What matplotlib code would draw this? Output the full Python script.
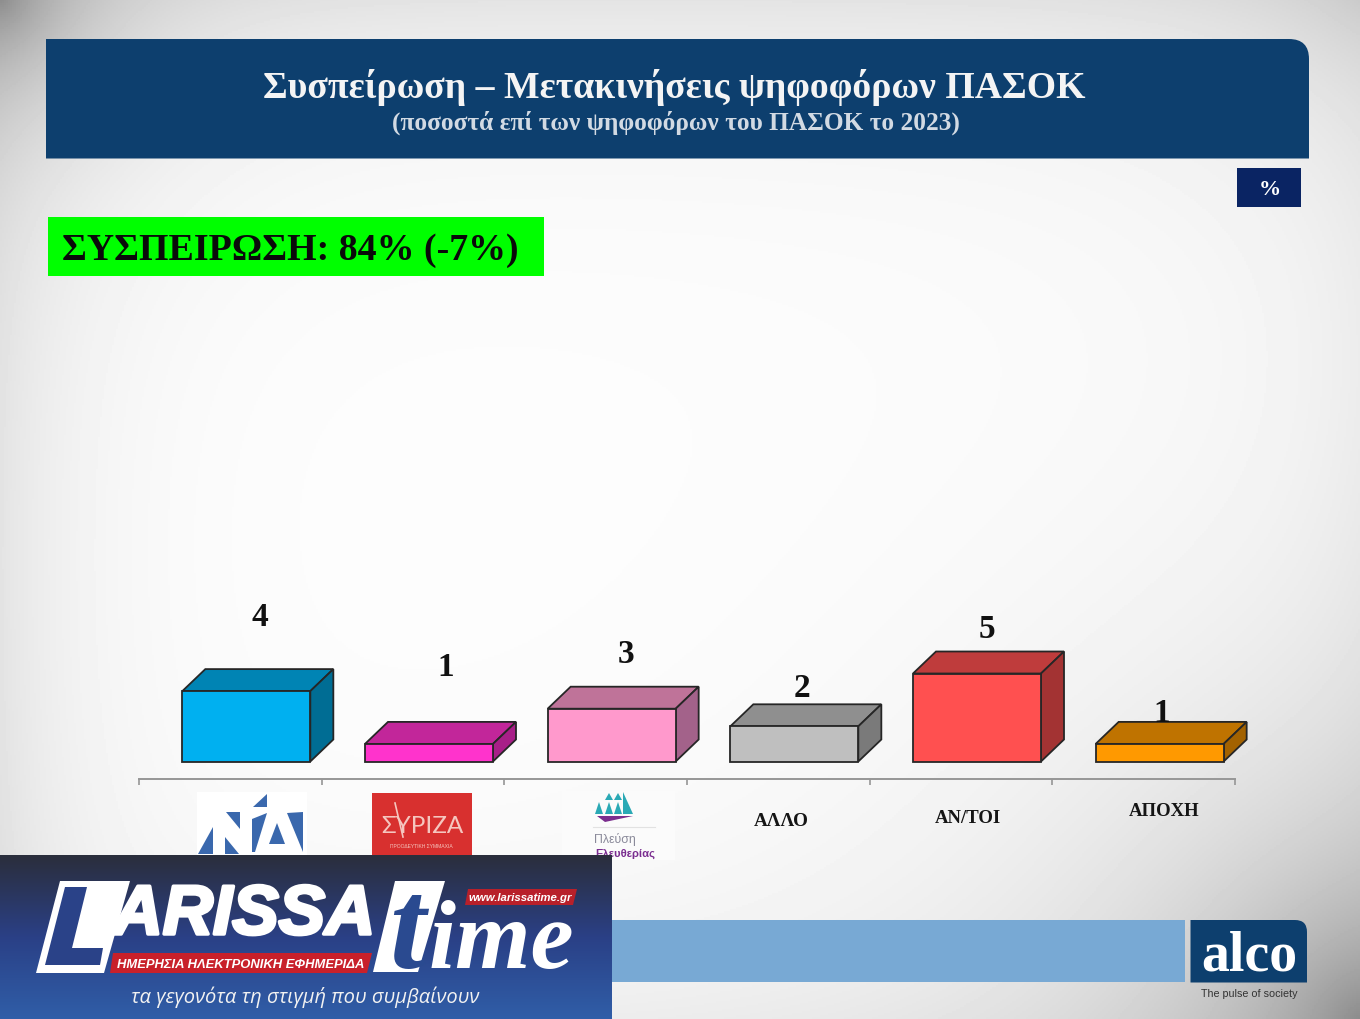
import numpy as np
import matplotlib
matplotlib.use("Agg")
import matplotlib.pyplot as plt
import matplotlib.patheffects as pe
from matplotlib.patches import Polygon, Rectangle, PathPatch
from matplotlib.path import Path

# ---- data ----
categories = ["ΝΔ", "ΣΥΡΙΖΑ", "Πλεύση Ελευθερίας", "ΑΛΛΟ", "ΑΝ/ΤΟΙ", "ΑΠΟΧΗ"]
values = [4, 1, 3, 2, 5, 1]
front_colors = ["#00b0f0", "#ff33cc", "#ff99cc", "#bfbfbf", "#ff5050", "#ff9900"]
top_colors = ["#0084b4", "#c2269a", "#bf7399", "#8f8f8f", "#bf3c3c", "#bf7300"]
side_colors = ["#006d94", "#a81f88", "#a3628a", "#7a7a7a", "#a33333", "#a36200"]
label_offsets_px = [(14, 75), (17, 77), (14, 55), (8, 39), (10, 45), (2, 31)]
title = "Συσπείρωση – Μετακινήσεις ψηφοφόρων ΠΑΣΟΚ"
subtitle = "(ποσοστά επί των ψηφοφόρων του ΠΑΣΟΚ το 2023)"
cohesion = "ΣΥΣΠΕΙΡΩΣΗ: 84% (-7%)"

W, H = 1360, 1020
fig = plt.figure(figsize=(W / 100, H / 100), dpi=100)
SERIF = "Liberation Serif"
SANS = "Liberation Sans"

# ---- background ----
bg = fig.add_axes([0, 0, 1, 1], zorder=0)
bg.axis("off")
yy, xx = np.mgrid[0:H:2, 0:W:2]
shade = (0.995
         - 0.10 * np.exp(-yy / 110.0)
         - 0.10 * np.exp(-xx / 90.0)
         - 0.05 * np.exp(-(W - xx) / 90.0)
         - 0.24 * np.exp(-np.hypot(xx, yy) / 90.0)
         - 0.05 * np.exp(-np.hypot(W - xx, yy) / 150.0)
         - 0.34 * np.exp(-np.hypot(W - xx, H - yy) / 200.0)
         - 0.06 * np.exp(-(H - yy) / 120.0))
bg.imshow(np.clip(shade, 0, 1), cmap="gray", vmin=0, vmax=1, extent=[0, W, H, 0], aspect="auto")

# ---- chart axes ----
PX_PER_UNIT = 17.6
left, right, bottom_px, top_px, base_px = 139, 1235, 780, 300, 762.5
ax = fig.add_axes([left / W, 1 - bottom_px / H, (right - left) / W, (bottom_px - top_px) / H], zorder=1)
ax.patch.set_alpha(0)
ax.set_xlim(0, len(values))
ax.set_ylim(-(bottom_px - base_px) / PX_PER_UNIT, (base_px - top_px) / PX_PER_UNIT)
for s in ("top", "left", "right"):
    ax.spines[s].set_visible(False)
ax.spines["bottom"].set_color("#969696")
ax.spines["bottom"].set_linewidth(1.4)
ax.set_yticks([])
ax.set_xticks(range(len(values) + 1))
ax.set_xticklabels([])
ax.tick_params(axis="x", direction="out", length=4.5, width=1.2, color="#969696")

px_x = (right - left) / len(values)
bar_w = 128 / px_x
shift = 16 / px_x
dx, dy = 23 / px_x, 22 / PX_PER_UNIT
centers = np.arange(len(values)) + 0.5 + shift
edge = "#262626"
lw = 1.3
ax.bar(centers, values, width=bar_w, color=front_colors, edgecolor=edge, linewidth=lw, zorder=3)
for c, v, tc, sc in zip(centers, values, top_colors, side_colors):
    l, r = c - bar_w / 2, c + bar_w / 2
    ax.add_patch(Polygon([(l, v), (r, v), (r + dx, v + dy), (l + dx, v + dy)], closed=True,
                         facecolor=tc, edgecolor=edge, linewidth=lw, zorder=2, clip_on=False))
    ax.add_patch(Polygon([(r, 0), (r + dx, dy), (r + dx, v + dy), (r, v)], closed=True,
                         facecolor=sc, edgecolor=edge, linewidth=lw, zorder=2, clip_on=False))
for c, v, (ox, oy) in zip(centers, values, label_offsets_px):
    ax.annotate(str(v), (c, v), xytext=(ox * 0.72, oy * 0.72), textcoords="offset points",
                ha="center", va="center", fontsize=24, fontweight="bold", family=SERIF,
                color="#111111", zorder=5)

# ---- overlay in pixel coordinates ----
ov = fig.add_axes([0, 0, 1, 1], zorder=2)
ov.patch.set_alpha(0)
ov.axis("off")
ov.set_xlim(0, W)
ov.set_ylim(H, 0)
renderer = fig.canvas.get_renderer()


def fit(x, y, s, width, **kw):
    """Real text scaled so that it is `width` pixels wide."""
    t = ov.text(x, y, s, ha=kw.pop("ha", "center"), va=kw.pop("va", "center"), fontsize=20, **kw)
    w = t.get_window_extent(renderer).width
    t.set_fontsize(20 * width / w)
    return t


def rounded_tr(x0, y0, x1, y1, r, **kw):
    verts = [(x0, y0), (x1 - r, y0), (x1, y0), (x1, y0 + r), (x1, y1), (x0, y1), (x0, y0)]
    codes = [Path.MOVETO, Path.LINETO, Path.CURVE3, Path.CURVE3, Path.LINETO, Path.LINETO, Path.CLOSEPOLY]
    ov.add_patch(PathPatch(Path(verts, codes), **kw))


def poly(pts, color, z=3):
    ov.add_patch(Polygon(pts, closed=True, facecolor=color, edgecolor="none", zorder=z))


NAVY = "#0d3f6e"
rounded_tr(46, 40, 1309, 159.5, 20, facecolor=NAVY, edgecolor="none")
fit(674, 87.5, title, 822, family=SERIF, fontweight="bold", color="#f4f4f4")
fit(675.5, 122.5, subtitle, 566, family=SERIF, color="#e4e8ee", fontweight="bold", alpha=0.92)

ov.add_patch(Rectangle((1237, 168.5), 64, 39, facecolor="#0a2463", edgecolor="none"))
ov.text(1270, 190, "%", ha="center", va="center", color="white", family=SERIF, fontweight="bold", fontsize=16)

ov.add_patch(Rectangle((48, 217.5), 496, 59, facecolor="#00ff00", edgecolor="none"))
fit(62, 250.5, cohesion, 454, ha="left", family=SERIF, fontweight="bold", color="#0a0a0a")

# category labels (text ones)
for s, x, y, w in [("ΑΛΛΟ", 781.5, 821.5, 55), ("ΑΝ/ΤΟΙ", 968, 818.5, 66), ("ΑΠΟΧΗ", 1164.5, 811.5, 71)]:
    fit(x, y, s, w, family=SERIF, fontweight="bold", color="#151515")

# ND logo
ov.add_patch(Rectangle((197, 793), 110, 65, facecolor="white", edgecolor="none"))
ND = "#3a68ad"
for pts in [[(267, 795), (267, 808), (253, 808)],
            [(213, 828), (213, 855), (198, 855)],
            [(226, 813), (240, 813), (240, 830)],
            [(225, 838), (239, 855), (225, 855)],
            [(267, 814), (255, 853), (252, 853), (252, 820)],
            [(277, 824), (285, 845), (269, 845)],
            [(287, 814), (303, 813), (303, 853)]]:
    poly(pts, ND)

# SYRIZA logo
ov.add_patch(Rectangle((372, 794), 100, 66, facecolor="#d8302f", edgecolor="none"))
fit(422, 827, "ΣΥΡΙΖΑ", 82, family="Lato", color="#f5c6bf")
ov.plot([395, 403], [804, 838], color="#f5c6bf", lw=1.2)
fit(421.5, 847, "ΠΡΟΟΔΕΥΤΙΚΗ ΣΥΜΜΑΧΙΑ", 63, family=SANS, color="#f5c6bf")

# Plefsi logo
ov.add_patch(Rectangle((562, 792), 113, 69, facecolor="#fbfbfb", edgecolor="none"))
TEAL = "#2aa9b5"
for x0 in (595, 605, 614):
    poly([(x0, 815), (x0 + 4, 803), (x0 + 8, 815)], TEAL)
for x0 in (605, 614):
    poly([(x0, 801), (x0 + 4, 794), (x0 + 8, 801)], TEAL)
poly([(623, 793), (633, 815), (623, 815)], TEAL)
poly([(597, 817), (633, 817), (605, 823)], "#7b2d8e")
ov.plot([593, 655], [828, 828], color="#e2e2e2", lw=0.8)
fit(615, 840, "Πλεύση", 42, family=SANS, color="#8a8a9a")
fit(625, 854, "Ελευθερίας", 60, family=SANS, fontweight="bold", color="#7a2d90")

# bottom bar and alco logo
ov.add_patch(Rectangle((612, 921), 573, 62, facecolor="#78a9d4", edgecolor="none"))
rounded_tr(1190.5, 921, 1307, 983.5, 12, facecolor=NAVY, edgecolor="none")
fit(1249, 970.5, "alco", 96, va="baseline", family=SERIF, fontweight="bold", color="white")
fit(1249.5, 994, "The pulse of society", 95, family=SANS, color="#333333")

# Larissa Time banner
grad = np.linspace(0, 1, 164)[:, None, None]
c0, mid, c1 = np.array([0x2b, 0x2e, 0x3c]), np.array([0x2a, 0x40, 0x86]), np.array([0x30, 0x5e, 0xa8])
img = np.where(grad < 0.5, c0 + (mid - c0) * grad * 2, mid + (c1 - mid) * (grad - 0.5) * 2) / 255.0
ov.imshow(img, extent=[0, 612, 1020, 856.5], aspect="auto", zorder=5)
ov.set_xlim(0, W)
ov.set_ylim(H, 0)

poly([(60, 882), (130, 882), (104, 974), (36, 974)], "white", 6)
poly([(65, 888), (87, 888), (72, 949), (103, 949), (100, 966), (45, 966)], "#2a4288", 6)
fit(244, 917, "ARISSA", 262, family=SANS, fontweight="bold", style="italic", color="white", zorder=6,
    path_effects=[pe.withStroke(linewidth=2.5, foreground="white")])
poly([(395, 882), (445, 882), (418, 973), (373, 973)], "white", 6)
fit(407, 968, "t", 36, va="baseline", family=SERIF, style="italic", fontweight="bold", color="#2a4a90", zorder=7)
fit(501, 968, "ime", 146, va="baseline", family=SERIF, style="italic", fontweight="bold", color="white", zorder=7)
poly([(113, 954), (372, 954), (367, 974), (110, 974)], "#c8202a", 7)
fit(241, 965, "ΗΜΕΡΗΣΙΑ ΗΛΕΚΤΡΟΝΙΚΗ ΕΦΗΜΕΡΙΔΑ", 248, family=SANS, fontweight="bold", style="italic", color="white", zorder=8)
poly([(468, 890), (577, 890), (573, 906), (465, 906)], "#b8202a", 7)
fit(520.5, 898.5, "www.larissatime.gr", 103, family=SANS, fontweight="bold", style="italic", color="white", zorder=8)
fit(305, 997, "τα γεγονότα τη στιγμή που συμβαίνουν", 348, family="Open Sans", style="italic", color="#f2f2f2", zorder=8)

fig.savefig("out.png", dpi=100)
